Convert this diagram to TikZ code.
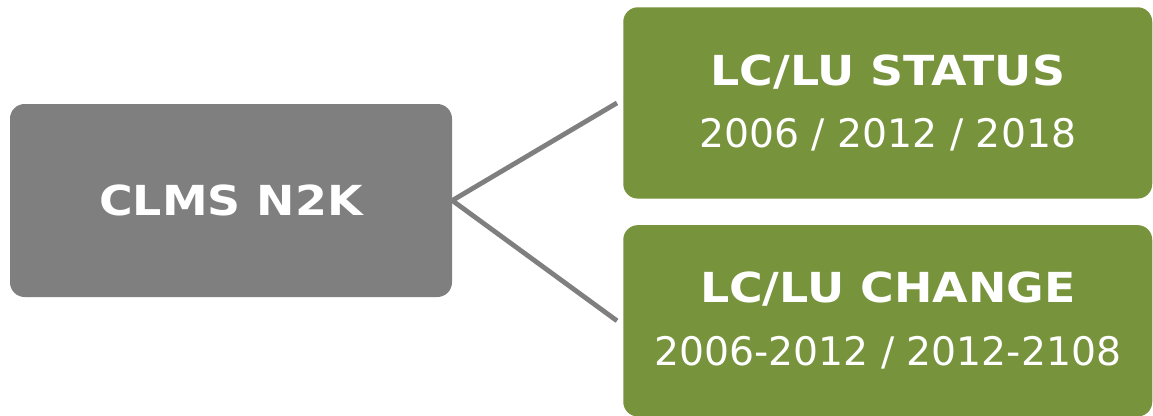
\documentclass[tikz,border=0pt]{standalone}
\usepackage{fontspec}
\setmainfont{DejaVu Sans}[BoldFeatures={FakeStretch=1.11}]
\usetikzlibrary{positioning}
\definecolor{clmsgray}{HTML}{7F7F7F}
\definecolor{lcgreen}{HTML}{77933C}
\newcommand{\headline}{\bfseries\fontsize{31}{47}\selectfont}
\newcommand{\yearline}{\mdseries\fontsize{29.5}{47}\selectfont}

\begin{document}
\begin{tikzpicture}[x=0.75pt,y=-0.75pt]
		\useasboundingbox[fill=white] (0,0) rectangle (1153,415);

		\tikzset{
			graybox/.style={fill=clmsgray,
				text=white,
				rounded corners=11pt,
				minimum width=331.5pt,
				minimum height=144.75pt,
				inner sep=0pt
			},
			greenbox/.style={fill=lcgreen,
				text=white,
				align=center,
				rounded corners=11pt,
				minimum width=396.75pt,
				minimum height=143.5pt,
				inner sep=0pt,
				font=\yearline
			},
			link/.style={draw=clmsgray,
				line width=3.6pt
			}
		}

		\node[graybox] (clms) at (231,200.5) {\headline CLMS N2K};

		\node[greenbox,
			anchor=north west
		] (status) at (623,7) {\headline LC/LU STATUS\\\yearline 2006 / 2012 / 2018};

		\node[greenbox,
			below=19.5pt of status
		] (change) {\headline LC/LU CHANGE\\\yearline 2006-2012 / 2012-2108};

		\draw[link] ([xshift=-4.5pt]status.west) -- (clms.east)
		-- ([xshift=-4.5pt]change.west);

	\end{tikzpicture}
\end{document}
